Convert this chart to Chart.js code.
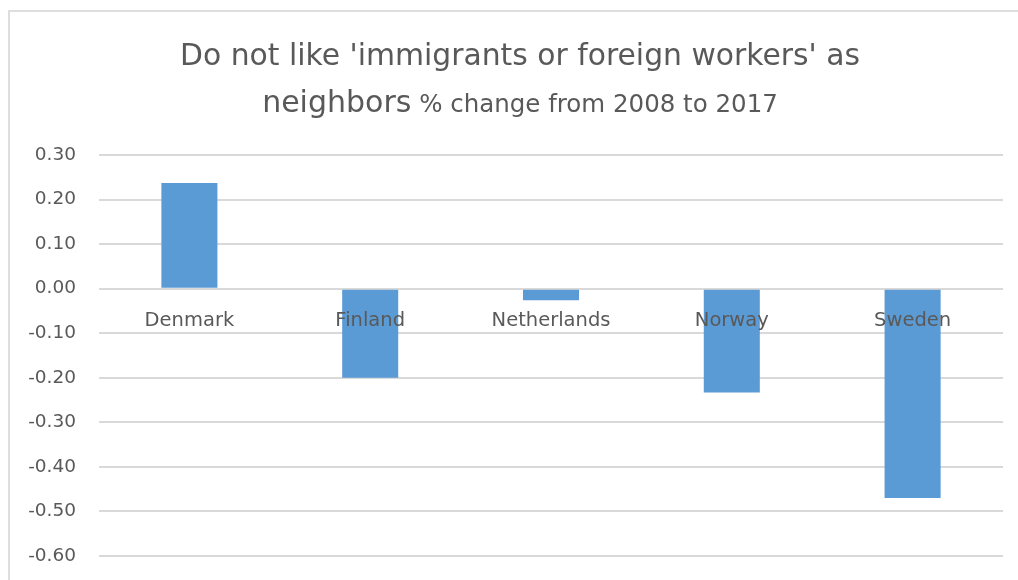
<!DOCTYPE html>
<html>
<head>
<meta charset="utf-8">
<script src="https://cdn.jsdelivr.net/npm/chart.js@4"></script>
<style>
  html, body { margin: 0; padding: 0; background: #fff; overflow: hidden; }
  #frame { position: absolute; left: 8px; top: 10px; width: 1100px; height: 700px;
           border-left: 2px solid #dedede; border-top: 2px solid #dedede; }
  #wrap { position: absolute; left: 0; top: 0; width: 1018px; height: 580px; }
</style>
</head>
<body>
<div id="frame"></div>
<div id="wrap"><canvas id="chart" width="1018" height="580"></canvas></div>
<script>
// Do not like 'immigrants or foreign workers' as neighbors, % change 2008 -> 2017

const countries = ["Denmark", "Finland", "Netherlands", "Norway", "Sweden"];
const changes = [0.237, -0.20, -0.026, -0.233, -0.47];
const yMin = -0.6;
const yMax = 0.3;
const yStep = 0.1;

const titleLine1 = "Do not like 'immigrants or foreign workers' as";
const titleLine2Big = "neighbors";
const titleLine2Small = " % change from 2008 to 2017";

const FONT = "'DejaVu Sans', sans-serif";
const GREY = "#595959";

// draws the two-line title, second line mixes two sizes
const titlePlugin = {
  id: "mixedTitle",
  afterDraw(chart) {
    const ctx = chart.ctx;
    const cx = 520;
    ctx.save();
    ctx.fillStyle = GREY;
    ctx.textBaseline = "alphabetic";
    ctx.textAlign = "left";

    ctx.font = "29.8px " + FONT;
    const w1 = ctx.measureText(titleLine1).width;
    ctx.fillText(titleLine1, cx - w1 / 2, 65);

    ctx.font = "30px " + FONT;
    const wBig = ctx.measureText(titleLine2Big).width;
    ctx.font = "24.5px " + FONT;
    const wSmall = ctx.measureText(titleLine2Small).width;
    const x = cx - (wBig + wSmall) / 2;
    ctx.font = "30px " + FONT;
    ctx.fillText(titleLine2Big, x, 112);
    ctx.font = "24.5px " + FONT;
    ctx.fillText(titleLine2Small, x + wBig, 112);
    ctx.restore();
  }
};

new Chart(document.getElementById("chart"), {
  type: "bar",
  data: {
    labels: countries,
    datasets: [{
      label: "% change",
      data: changes,
      backgroundColor: "#5b9bd5",
      categoryPercentage: 1,
      barPercentage: 0.31
    }]
  },
  options: {
    responsive: false,
    animation: false,
    layout: { padding: { left: 0, right: 15, top: 155, bottom: 24 } },
    plugins: {
      legend: { display: false },
      title: { display: false },
      tooltip: { enabled: false }
    },
    scales: {
      x: {
        position: { y: 0 },
        afterFit: scale => {
          // axis sits on the zero line, it should not take any room
          scale.height = 0;
          scale.paddingTop = 0;
          scale.paddingBottom = 0;
          scale.paddingLeft = 0;
          scale.paddingRight = 0;
        },
        grid: { display: false, drawTicks: false },
        border: { display: false },
        ticks: {
          z: 1,
          color: GREY,
          font: { family: FONT, size: 19.5 },
          padding: 21,
          maxRotation: 0
        }
      },
      y: {
        min: yMin,
        max: yMax,
        afterFit: scale => {
          scale.width = 99;
          scale.paddingTop = 0;
          scale.paddingBottom = 0;
        },
        grid: { color: "#d9d9d9", lineWidth: 2, drawTicks: false },
        border: { display: false },
        ticks: {
          stepSize: yStep,
          color: GREY,
          font: { family: FONT, size: 18.5 },
          padding: 23,
          callback: v => Number(v).toFixed(2)
        }
      }
    }
  },
  plugins: [titlePlugin]
});
</script>
</body>
</html>
